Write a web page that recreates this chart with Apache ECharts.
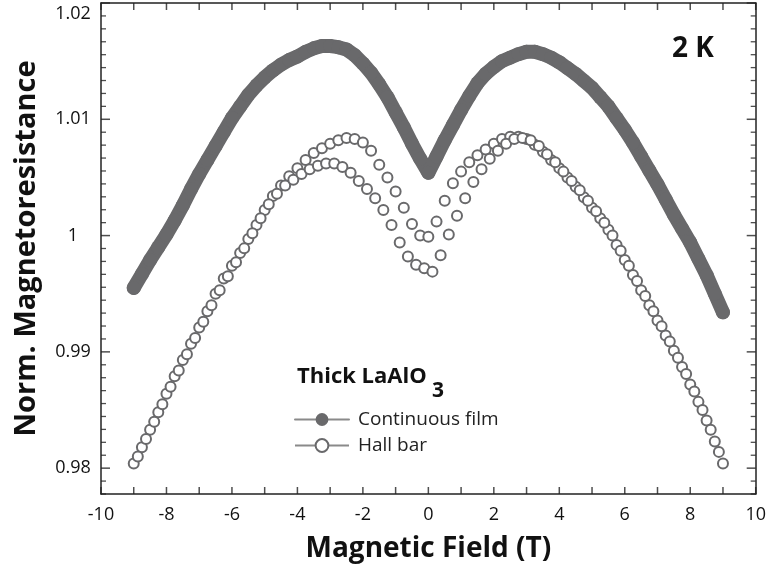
<!DOCTYPE html>
<html>
<head>
<meta charset="utf-8">
<script src="https://cdn.jsdelivr.net/npm/echarts@6/dist/echarts.min.js"></script>
<style>
  html, body { margin: 0; padding: 0; background: #fff; }
  #main { width: 769px; height: 573px; }
</style>
</head>
<body>
<div id="main"></div>
<script>
// field values (T) and normalized MR
const filmField = [-9, -8.75, -8.5, -8.25, -8, -7.75, -7.5, -7.25, -7, -6.75, -6.5, -6.25, -6, -5.75, -5.5, -5.25, -5, -4.75, -4.5, -4.25,
  -4, -3.75, -3.5, -3.25, -3, -2.75, -2.5, -2.25, -2, -1.75, -1.5, -1.25, -1, -0.75, -0.5, -0.25,
  0, 0.25, 0.5, 0.75, 1, 1.25, 1.5, 1.75, 2, 2.25, 2.5, 2.75, 3, 3.25, 3.5, 3.75, 4, 4.25, 4.5, 4.75,
  5, 5.25, 5.5, 5.75, 6, 6.25, 6.5, 6.75, 7, 7.25, 7.5, 7.75, 8, 8.25, 8.5, 8.75, 9]
const filmMR = [0.9955, 0.9967, 0.9979, 0.9990, 1.0001, 1.0013, 1.0026, 1.0040, 1.0053, 1.0065, 1.0077, 1.0089, 1.0101, 1.0111, 1.0121, 1.0129, 1.0136, 1.0142, 1.0147, 1.0151,
  1.0154, 1.0158, 1.0161, 1.0163, 1.0163, 1.0162, 1.0160, 1.0155, 1.0148, 1.0140, 1.0130, 1.0119, 1.0106, 1.0093, 1.0079, 1.0066,
  1.0054, 1.0068, 1.0082, 1.0095, 1.0108, 1.0120, 1.0131, 1.0139, 1.0145, 1.0150, 1.0153, 1.0156, 1.0158, 1.0158, 1.0156, 1.0153, 1.0149, 1.0144, 1.0139, 1.0133,
  1.0127, 1.0119, 1.0111, 1.0101, 1.0091, 1.0080, 1.0068, 1.0056, 1.0044, 1.0031, 1.0018, 1.0006, 0.9994, 0.9980, 0.9966, 0.9950, 0.9934]

// Hall bar, sweep with the higher left peak
const hallFieldUp = [-9, -8.75, -8.5, -8.25, -8, -7.75, -7.5, -7.25, -7, -6.75, -6.5, -6.25, -6, -5.75, -5.5, -5.25, -5, -4.75, -4.5, -4.25,
  -4, -3.75, -3.5, -3.25, -3, -2.75, -2.5, -2.25, -2, -1.75, -1.5, -1.25, -1, -0.75, -0.5, -0.25,
  0, 0.25, 0.5, 0.75, 1, 1.25, 1.5, 1.75, 2, 2.25, 2.5, 2.75, 3, 3.25, 3.5, 3.75, 4, 4.25, 4.5, 4.75,
  5, 5.25, 5.5, 5.75, 6, 6.25, 6.5, 6.75, 7, 7.25, 7.5, 7.75, 8, 8.25, 8.5, 8.75, 9]
const hallMRUp = [0.9804, 0.9818, 0.9833, 0.9848, 0.9864, 0.9879, 0.9893, 0.9907, 0.9921, 0.9935, 0.9950, 0.9963, 0.9974, 0.9985, 0.9997, 1.0009, 1.0022, 1.0034, 1.0043, 1.0051,
  1.0058, 1.0065, 1.0071, 1.0075, 1.0079, 1.0082, 1.0084, 1.0083, 1.0080, 1.0073, 1.0061, 1.0050, 1.0038, 1.0024, 1.0010, 1.0000,
  0.9999, 1.0012, 1.0030, 1.0045, 1.0055, 1.0063, 1.0069, 1.0074, 1.0079, 1.0083, 1.0085, 1.0085, 1.0083, 1.0078, 1.0072, 1.0065, 1.0058, 1.0050, 1.0042, 1.0033,
  1.0024, 1.0015, 1.0005, 0.9992, 0.9979, 0.9966, 0.9953, 0.9940, 0.9927, 0.9914, 0.9901, 0.9887, 0.9872, 0.9857, 0.9841, 0.9823, 0.9804]

// Hall bar, sweep with the lower left peak (sampled between the other sweep's points)
const hallFieldDown = [-8.875, -8.625, -8.375, -8.125, -7.875, -7.625, -7.375, -7.125, -6.875, -6.625, -6.375, -6.125, -5.875, -5.625, -5.375, -5.125,
  -4.875, -4.625, -4.375, -4.125, -3.875, -3.625, -3.375, -3.125, -2.875, -2.625, -2.375, -2.125, -1.875, -1.625, -1.375, -1.125,
  -0.875, -0.625, -0.375, -0.125, 0.125, 0.375, 0.625, 0.875, 1.125, 1.375, 1.625, 1.875, 2.125, 2.375, 2.625, 2.875,
  3.125, 3.375, 3.625, 3.875, 4.125, 4.375, 4.625, 4.875, 5.125, 5.375, 5.625, 5.875, 6.125, 6.375, 6.625, 6.875,
  7.125, 7.375, 7.625, 7.875, 8.125, 8.375, 8.625, 8.875]
const hallMRDown = [0.9810, 0.9825, 0.9840, 0.9855, 0.9870, 0.9884, 0.9898, 0.9912, 0.9926, 0.9940, 0.9953, 0.9965, 0.9977, 0.9989, 1.0002, 1.0015,
  1.0027, 1.0036, 1.0043, 1.0048, 1.0053, 1.0057, 1.0060, 1.0062, 1.0062, 1.0059, 1.0054, 1.0047, 1.0040, 1.0032, 1.0022, 1.0009,
  0.9994, 0.9982, 0.9975, 0.9972, 0.9969, 0.9983, 1.0001, 1.0017, 1.0032, 1.0046, 1.0057, 1.0066, 1.0073, 1.0079, 1.0083, 1.0084,
  1.0082, 1.0077, 1.0070, 1.0063, 1.0055, 1.0047, 1.0039, 1.0030, 1.0021, 1.0011, 1.0000, 0.9987, 0.9974, 0.9961, 0.9948, 0.9935,
  0.9922, 0.9909, 0.9895, 0.9881, 0.9866, 0.9850, 0.9833, 0.9814]

const xTicks = [-10, -9, -8, -7, -6, -5, -4, -3, -2, -1, 0, 1, 2, 3, 4, 5, 6, 7, 8, 9, 10]
const yMajor = [0.98, 0.99, 1, 1.01, 1.02]

// 9 minor steps per 0.01; the frame bottom sits two minor steps under 0.98
const yStep = 0.01 / 9
const yMin = +(0.98 - 2 * yStep).toFixed(7)
const yMax = 1.02
const gray = '#69696b'
const ink = '#222'
const font = 'Open Sans'

const yMinor = []
for (let k = 0; k <= 38; k++) {
  if ((k - 2) % 9 !== 0) yMinor.push(+(yMin + k * yStep).toFixed(7))
}

const zip = (xs, ys) => xs.map((x, i) => [x, ys[i]])

const frameLine = { show: true, onZero: false, lineStyle: { color: ink, width: 1.5 } }

const xBase = {
  type: 'value', min: -10, max: 10, interval: 1,
  axisLine: frameLine, splitLine: { show: false }, axisTick: { show: false }
}
const yBase = pos => ({
  type: 'value', min: yMin, max: yMax, position: pos,
  axisLine: frameLine, splitLine: { show: false }, axisTick: { show: false },
  axisLabel: { show: false }
})

// inward tick marks along the frame, placed through the axes
const tickMarks = (data, size, offset) => ({
  type: 'scatter', data: data, symbol: 'rect', symbolSize: size, symbolOffset: offset,
  clip: false, silent: true, z: 5, itemStyle: { color: ink }
})

const hallStyle = {
  type: 'line', symbol: 'circle', symbolSize: 10, showAllSymbol: true,
  lineStyle: { width: 0 },
  itemStyle: { color: '#fff', borderColor: gray, borderWidth: 2 }
}

const leftAxis = yBase('left')
Object.assign(leftAxis, {
  name: 'Norm. Magnetoresistance', nameLocation: 'middle', nameGap: 60,
  nameTextStyle: { fontFamily: font, fontWeight: 'bold', fontSize: 29, color: '#111' },
  axisLabel: {
    show: true, customValues: yMajor, margin: 28, align: 'center',
    fontFamily: font, fontSize: 18, color: '#111',
    formatter: v => (v > 1.015 ? '{top|1.02}' : String(+v.toFixed(2))),
    rich: { top: { fontFamily: font, fontSize: 18, color: '#111', padding: [22, 0, 0, 0] } }
  }
})

const myChart = echarts.init(document.getElementById('main'))
const option = {
  animation: false,
  backgroundColor: '#fff',
  grid: { left: 101, right: 7, top: 3, bottom: 79 },
  xAxis: [
    Object.assign({}, xBase, {
      position: 'bottom',
      name: 'Magnetic Field (T)', nameLocation: 'middle', nameGap: 41,
      nameTextStyle: { fontFamily: font, fontWeight: 'bold', fontSize: 28, color: '#111' },
      axisLabel: {
        margin: 12, fontFamily: font, fontSize: 18, color: '#111',
        formatter: v => (v % 2 === 0 ? String(v) : '')
      }
    }),
    Object.assign({}, xBase, { position: 'top', axisLabel: { show: false } })
  ],
  yAxis: [leftAxis, yBase('right')],
  legend: {
    data: ['Continuous film', 'Hall bar'],
    orient: 'vertical', left: 289, top: 405,
    itemWidth: 54, itemHeight: 16, itemGap: 7,
    lineStyle: { color: '#8a8a8a', width: 2, opacity: 1 },
    textStyle: { fontFamily: font, fontSize: 19, color: ink, padding: [0, 0, 0, 4] }
  },
  graphic: [
    { type: 'text', left: 297, top: 366, style: { text: 'Thick LaAlO', fontFamily: font, fontWeight: 'bold', fontSize: 22, fill: '#111' } },
    { type: 'text', left: 432, top: 381, style: { text: '3', fontFamily: font, fontWeight: 'bold', fontSize: 21, fill: '#111' } },
    { type: 'text', left: 672, top: 35, style: { text: '2 K', fontFamily: font, fontWeight: 'bold', fontSize: 28, fill: '#111' } }
  ],
  series: [
    Object.assign({ name: 'Hall bar', data: zip(hallFieldUp, hallMRUp) }, hallStyle),
    Object.assign({ name: 'Hall bar', data: zip(hallFieldDown, hallMRDown) }, hallStyle),
    {
      name: 'Continuous film', type: 'line', data: zip(filmField, filmMR),
      symbol: 'circle', symbolSize: 14, showAllSymbol: true,
      lineStyle: { width: 14, color: gray, cap: 'round', join: 'round' },
      itemStyle: { color: gray }
    },
    tickMarks(xTicks.map(x => [x, yMin]), [1.5, 7], [0, -3.5]),
    tickMarks(xTicks.map(x => [x, yMax]), [1.5, 7], [0, 3.5]),
    tickMarks(yMajor.map(y => [-10, y]), [9, 1.5], [4.5, 0]),
    tickMarks(yMinor.map(y => [-10, y]), [5, 1.3], [2.5, 0]),
    tickMarks(yMajor.map(y => [10, y]), [9, 1.5], [-4.5, 0]),
    tickMarks(yMinor.map(y => [10, y]), [5, 1.3], [-2.5, 0])
  ]
}
myChart.setOption(option)
</script>
</body>
</html>
